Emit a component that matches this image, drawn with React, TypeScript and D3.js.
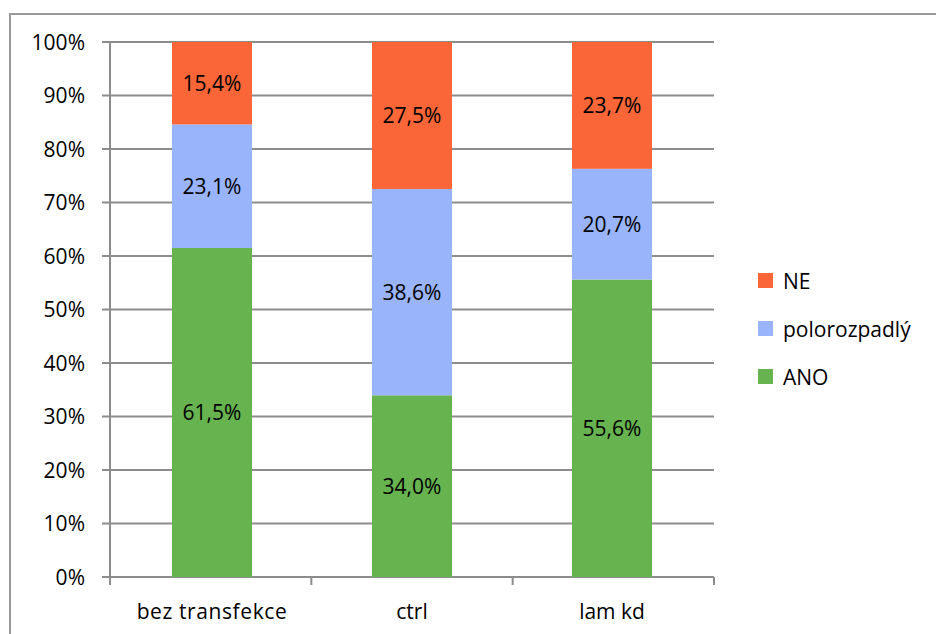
import React from "react";
import * as d3 from "d3";

// Kategorie a hodnoty (v %)
const categories = ["bez transfekce", "ctrl", "lam kd"];
const seriesNames = ["ANO", "polorozpadlý", "NE"];
const ano = [61.5, 34.0, 55.6];
const polo = [23.1, 38.6, 20.7];
const ne = [15.4, 27.5, 23.7];
const yTicks = [0, 10, 20, 30, 40, 50, 60, 70, 80, 90, 100];

const colors: Record<string, string> = {
  ANO: "#66b34f",
  "polorozpadlý": "#99b4fa",
  NE: "#fa6637",
};

const W = 936;
const H = 634;
const font = "'Open Sans', 'Noto Sans', sans-serif";
const fs = 21;

export default function App() {
  const rows = categories.map((c, i) => ({
    cat: c,
    ANO: ano[i],
    "polorozpadlý": polo[i],
    NE: ne[i],
  }));

  const stack = d3
    .stack<any>()
    .keys(seriesNames)
    .offset(d3.stackOffsetExpand);
  const layers = stack(rows);

  const x = d3
    .scaleBand()
    .domain(categories)
    .range([110, 714])
    .paddingInner(0.6)
    .paddingOuter(0.31);
  const y = d3.scaleLinear().domain([0, 1]).range([577, 42]);

  const labelValues: Record<string, number[]> = {
    ANO: ano,
    "polorozpadlý": polo,
    NE: ne,
  };

  const legendItems = [...seriesNames].reverse();

  return (
    <svg
      width={W}
      height={H}
      style={{ position: "absolute", left: 0, top: 0, background: "#fff" }}
      fontFamily={font}
    >
      {/* rámeček */}
      <rect x={10} y={14} width={940} height={640} fill="#fff" stroke="#999" strokeWidth={2} />

      {/* mřížka a osa y */}
      {yTicks.map((t) => (
        <g key={t}>
          <line
            x1={102}
            x2={714}
            y1={y(t / 100)}
            y2={y(t / 100)}
            stroke="#8c8c8c"
            strokeWidth={2}
          />
          <text
            x={85}
            y={y(t / 100)}
            dy="0.36em"
            textAnchor="end"
            fontSize={fs}
            fill="#000"
          >
            {t}%
          </text>
        </g>
      ))}
      <line x1={110} x2={110} y1={42} y2={585} stroke="#8c8c8c" strokeWidth={2} />
      {[1, 2, 3].map((i) => {
        const xx = 110 + ((714 - 110) / 3) * i;
        return (
          <line key={i} x1={xx} x2={xx} y1={577} y2={585} stroke="#8c8c8c" strokeWidth={2} />
        );
      })}

      {/* sloupce */}
      {layers.map((layer) =>
        layer.map((d, i) => (
          <rect
            key={layer.key + i}
            x={x(categories[i])!}
            y={y(d[1])}
            width={x.bandwidth()}
            height={y(d[0]) - y(d[1])}
            fill={colors[layer.key]}
          />
        ))
      )}

      {/* popisky hodnot */}
      {layers.map((layer) =>
        layer.map((d, i) => (
          <text
            key={"l" + layer.key + i}
            x={x(categories[i])! + x.bandwidth() / 2}
            y={(y(d[0]) + y(d[1])) / 2}
            dy="0.36em"
            textAnchor="middle"
            fontSize={fs}
            fill="#000"
          >
            {labelValues[layer.key][i].toFixed(1).replace(".", ",")}%
          </text>
        ))
      )}

      {/* popisky kategorií */}
      {categories.map((c) => (
        <text
          key={c}
          x={x(c)! + x.bandwidth() / 2}
          y={619}
          textAnchor="middle"
          fontSize={fs}
          fill="#000"
          letterSpacing={c === "bez transfekce" ? 0.6 : 0}
        >
          {c}
        </text>
      ))}

      {/* legenda */}
      {legendItems.map((s, i) => (
        <g key={s} transform={`translate(758, ${273 + i * 48})`}>
          <rect width={15} height={15} fill={colors[s]} />
          <text x={25} y={8} dy="0.36em" fontSize={fs} fill="#000">
            {s}
          </text>
        </g>
      ))}
    </svg>
  );
}
